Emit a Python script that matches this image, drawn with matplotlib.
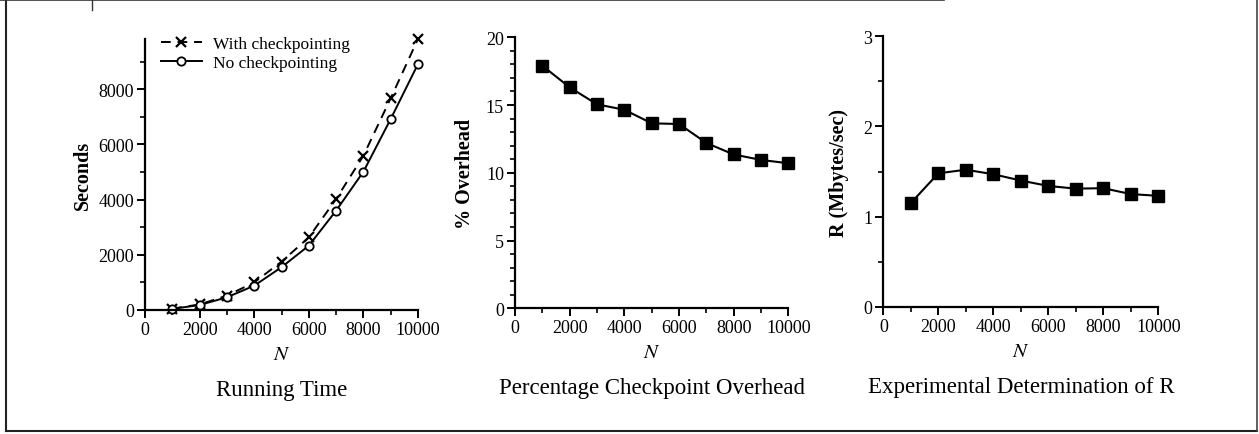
"""
Checkpointing experiment: running time, overhead and measured R vs N
"""
import matplotlib.pyplot as plt
from matplotlib.ticker import MultipleLocator
from matplotlib.lines import Line2D

plt.rcParams['font.family'] = ['Liberation Serif', 'DejaVu Serif']
plt.rcParams['mathtext.fontset'] = 'stix'

# Data
n_values = [1000, 2000, 3000, 4000, 5000, 6000, 7000, 8000, 9000, 10000]
time_ckpt = [50, 200, 520, 1000, 1750, 2630, 4020, 5590, 7670, 9820]
time_no_ckpt = [40, 180, 460, 880, 1550, 2330, 3600, 5010, 6920, 8910]
overhead_pct = [17.9, 16.3, 15.05, 14.65, 13.65, 13.6, 12.2, 11.35, 10.95, 10.7]
rate_mb = [1.15, 1.48, 1.52, 1.47, 1.40, 1.34, 1.31, 1.315, 1.25, 1.23]

x_ticks = [0, 2000, 4000, 6000, 8000, 10000]

fig = plt.figure(figsize=(12.59, 4.35), dpi=100)

# outer frame
fig.add_artist(Line2D([0.005, 0.005], [0.007, 0.998], color='#222222', lw=1.5))
fig.add_artist(Line2D([0.005, 0.9985], [0.007, 0.007], color='#222222', lw=1.5))
fig.add_artist(Line2D([0.9985, 0.9985], [0.007, 0.998], color='#444444', lw=1.2))
fig.add_artist(Line2D([0.0, 0.75], [0.997, 0.997], color='#333333', lw=1.2))
fig.add_artist(Line2D([0.073, 0.073], [0.975, 0.998], color='#333333', lw=1.0))


def style_axes(ax, ymax, ymajor, yminor):
    ax.spines['top'].set_visible(False)
    ax.spines['right'].set_visible(False)
    ax.spines['left'].set_linewidth(1.6)
    ax.spines['bottom'].set_linewidth(1.6)
    ax.set_xlim(0, 10000)
    ax.set_ylim(0, ymax)
    ax.set_xticks(x_ticks)
    ax.xaxis.set_minor_locator(MultipleLocator(1000))
    ax.yaxis.set_major_locator(MultipleLocator(ymajor))
    ax.yaxis.set_minor_locator(MultipleLocator(yminor))
    ax.tick_params(which='major', direction='out', length=6, width=1.4,
                   labelsize=13, pad=2)
    ax.tick_params(which='minor', direction='out', length=3.5, width=1.2)
    ax.set_xlabel('$N$', fontsize=15, labelpad=5)
    ax.patch.set_alpha(0)


# Running time
ax1 = fig.add_axes([0.1152, 0.2851, 0.2168, 0.6230])
ax1.plot(n_values, time_ckpt, color='black', linestyle=(0, (5, 3.5)), lw=1.4,
         marker='x', markersize=7, markeredgewidth=1.6, clip_on=False,
         label='With checkpointing')
ax1.plot(n_values, time_no_ckpt, color='black', linestyle='-', lw=1.4,
         marker='o', markersize=6, markerfacecolor='white', markeredgewidth=1.3,
         clip_on=False, label='No checkpointing')
style_axes(ax1, 9820, 2000, 1000)
ax1.set_ylabel('Seconds', fontsize=14.5, fontweight='bold', labelpad=4)
ax1.legend(loc='upper left', bbox_to_anchor=(0.0, 1.07), frameon=False,
           fontsize=12.5, handlelength=2.4, handletextpad=0.6, labelspacing=0.2)
ax1.set_title('Running Time', fontsize=16.5, y=-0.345)

# Percentage overhead
ax2 = fig.add_axes([0.4091, 0.2890, 0.2171, 0.6230])
ax2.plot(n_values, overhead_pct, color='black', lw=1.5, marker='s',
         markersize=8.5, clip_on=False)
style_axes(ax2, 20, 5, 1)
ax2.set_ylabel('% Overhead', fontsize=14.5, fontweight='bold', labelpad=8)
ax2.set_title('Percentage Checkpoint Overhead', fontsize=16.5, y=-0.345)

# Measured R
ax3 = fig.add_axes([0.7016, 0.2926, 0.2184, 0.6216])
ax3.plot(n_values, rate_mb, color='black', lw=1.5, marker='s', markersize=8.5,
         clip_on=False)
style_axes(ax3, 3, 1, 0.5)
ax3.set_ylabel('R (Mbytes/sec)', fontsize=14.5, fontweight='bold', labelpad=10)
ax3.set_title('Experimental Determination of R', fontsize=16.5, y=-0.345)

fig.savefig('out.png', dpi=100)
